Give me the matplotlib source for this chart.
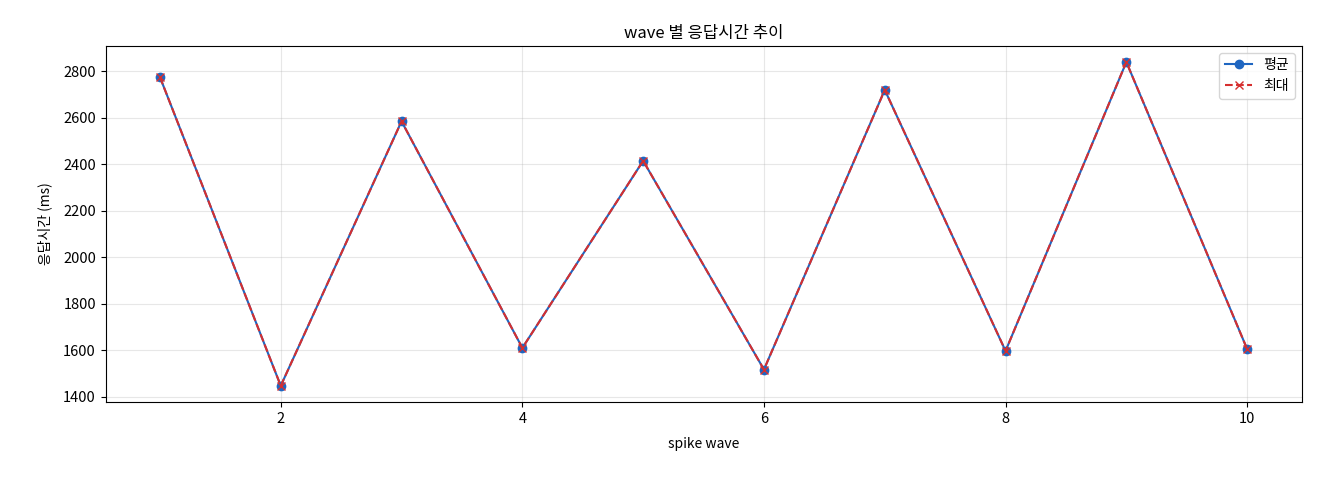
import matplotlib
matplotlib.use("Agg")
import matplotlib.pyplot as plt

plt.rcParams['font.family'] = ['Noto Sans CJK KR', 'DejaVu Sans']
plt.rcParams['axes.unicode_minus'] = False

waves = [1, 2, 3, 4, 5, 6, 7, 8, 9, 10]
avg_ms = [2775, 1447, 2585, 1610, 2415, 1517, 2720, 1597, 2840, 1605]
max_ms = [2775, 1447, 2585, 1610, 2415, 1517, 2720, 1597, 2840, 1605]

fig = plt.figure(figsize=(13.2, 4.8), dpi=100)
ax = fig.add_axes([0.08, 0.1625, 0.906, 0.742])
ax.plot(waves, avg_ms, marker='o', color='#1f66c1', label='평균', markersize=6)
ax.plot(waves, max_ms, marker='x', linestyle='--', color='#d62f2f', label='최대', markersize=6)
ax.set_title('wave 별 응답시간 추이', fontsize=12)
ax.set_xlabel('spike wave', fontsize=10, labelpad=8)
ax.set_ylabel('응답시간 (ms)', fontsize=10, labelpad=8)
ax.tick_params(labelsize=10.5)
ax.grid(True, alpha=0.3)
ax.legend(loc='upper right', fontsize=10)
fig.savefig('out.png', dpi=100)
